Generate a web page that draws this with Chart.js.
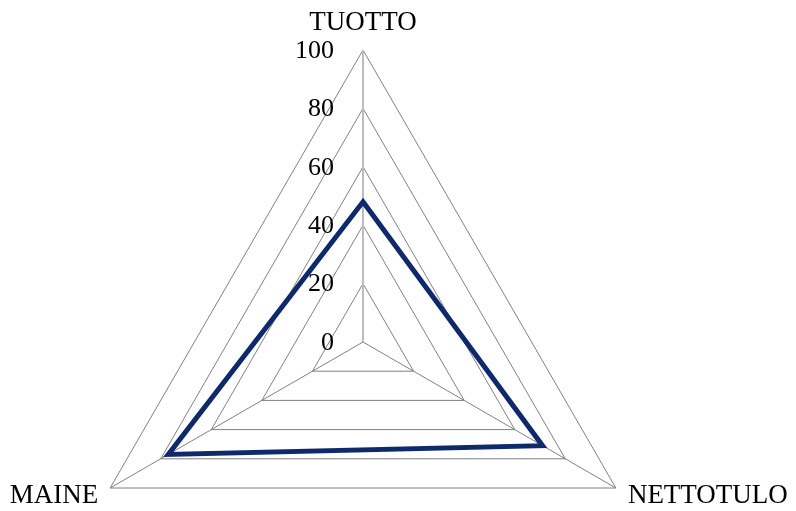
<!DOCTYPE html>
<html>
<head>
<meta charset="utf-8">
<script src="https://cdn.jsdelivr.net/npm/chart.js@4/dist/chart.umd.min.js"></script>
<style>
  html, body { margin: 0; padding: 0; background: #fff; }
  #wrap { width: 796px; height: 511px; }
</style>
</head>
<body>
<div id="wrap"><canvas id="radar"></canvas></div>
<script>
// Data
const categories = ['TUOTTO', 'NETTOTULO', 'MAINE'];
const values = [48, 71, 77];
const tickValues = [0, 20, 40, 60, 80, 100];

const FONT = '"Liberation Serif", "Times New Roman", serif';

// Excel-style placement: triangle centre and radius (the triangle does not need a full circle)
function placeScale(scale) {
  scale.xCenter = 363;
  scale.yCenter = 342;
  scale.drawingArea = 292;
}

// Tick labels left of the vertical axis, category labels around the vertices
const labelPlugin = {
  id: 'labels',
  afterDraw(chart) {
    const ctx = chart.ctx;
    const r = chart.scales.r;
    ctx.save();
    ctx.fillStyle = '#000';
    ctx.font = '26px ' + FONT;
    ctx.textAlign = 'right';
    ctx.textBaseline = 'middle';
    tickValues.forEach(v => {
      const p = r.getPointPositionForValue(0, v);
      ctx.fillText(String(v), p.x - 29, p.y + 1);
    });

    ctx.font = '27px ' + FONT;
    ctx.textBaseline = 'alphabetic';
    categories.forEach((name, i) => {
      const p = r.getPointPosition(i, r.drawingArea);
      if (i === 0) {
        ctx.textAlign = 'center';
        ctx.fillText(name, p.x, p.y - 20);
      } else if (i === 1) {
        ctx.textAlign = 'left';
        ctx.fillText(name, p.x + 12, p.y + 15);
      } else {
        ctx.textAlign = 'right';
        ctx.fillText(name, p.x - 12, p.y + 15);
      }
    });
    ctx.restore();
  }
};

new Chart(document.getElementById('radar'), {
  type: 'radar',
  data: {
    labels: categories,
    datasets: [{
      data: values,
      borderColor: '#0f2a6b',
      borderWidth: 5,
      fill: false,
      pointRadius: 0,
      borderJoinStyle: 'miter',
      tension: 0
    }]
  },
  options: {
    responsive: true,
    maintainAspectRatio: false,
    animation: false,
    layout: { padding: 0 },
    plugins: { legend: { display: false }, tooltip: { enabled: false } },
    scales: {
      r: {
        min: 0,
        max: 100,
        ticks: { stepSize: 20, display: false },
        pointLabels: { display: false },
        grid: { color: '#808080', lineWidth: 1 },
        angleLines: {
          color: ctx => ctx.index === 0 ? '#bdbdbd' : '#808080',
          lineWidth: ctx => ctx.index === 0 ? 2 : 1
        },
        afterFit: placeScale
      }
    }
  },
  plugins: [labelPlugin]
});
</script>
</body>
</html>
